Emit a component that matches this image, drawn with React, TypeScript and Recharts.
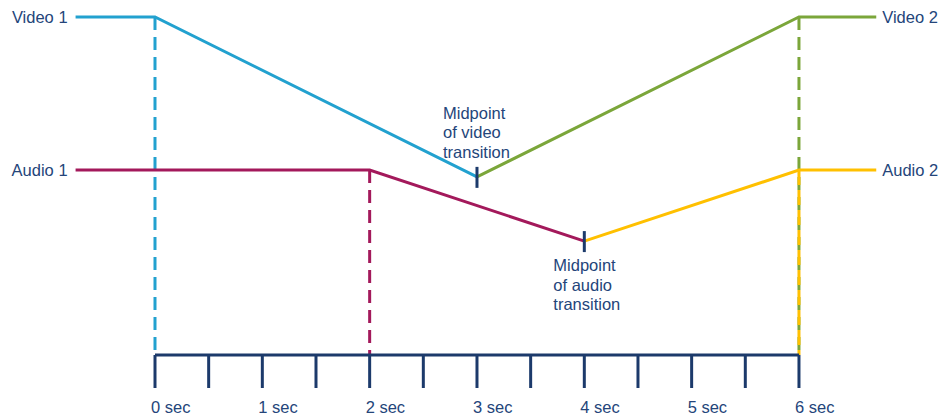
import React from 'react';
import { LineChart, Line, XAxis, YAxis, ReferenceLine, ReferenceDot } from 'recharts';

// time in seconds, level in arbitrary units (0..100)
const video1T = [-0.74, 0, 3];
const video1V = [100, 100, 52.7];
const video2T = [3, 6, 6.72];
const video2V = [52.7, 100, 100];
const audio1T = [-0.74, 2, 4];
const audio1V = [54.7, 54.7, 33.7];
const audio2T = [4, 6, 6.72];
const audio2V = [33.7, 54.7, 54.7];

const tickValues = [0, 0.5, 1, 1.5, 2, 2.5, 3, 3.5, 4, 4.5, 5, 5.5, 6];
const tickLabels = ['0 sec', '', '1 sec', '', '2 sec', '', '3 sec', '', '4 sec', '', '5 sec', '', '6 sec'];

const videoMidpointLabel = ['Midpoint', 'of video', 'transition'];
const audioMidpointLabel = ['Midpoint', 'of audio', 'transition'];

const toRows = (t: number[], v: number[]) => t.map((x, i) => ({ t: x, v: v[i] }));
const video1 = toRows(video1T, video1V);
const video2 = toRows(video2T, video2V);
const audio1 = toRows(audio1T, audio1V);
const audio2 = toRows(audio2T, audio2V);

const FONT = '"Liberation Sans", Arial, Helvetica, sans-serif';
const FS = 16.5;
const TEXT = '#24457a';
const NAVY = '#1c3a6b';
const BLUE = '#22a1cf';
const CRIMSON = '#a3195b';
const GREEN = '#7ba63a';
const YELLOW = '#ffc000';

const XTick = (props: any) => {
  const { x, y, payload } = props;
  const idx = tickValues.indexOf(payload.value);
  const label = idx >= 0 ? tickLabels[idx] : '';
  if (!label) return null;
  return (
    <text x={x - 4} y={y} dy={23} textAnchor="start" fontFamily={FONT} fontSize={FS} fill={TEXT}>
      {label}
    </text>
  );
};

const sideLabel = (text: string, side: 'left' | 'right') => (p: any) => (
  <text
    x={side === 'left' ? p.cx - 8 : p.cx + 6}
    y={p.cy}
    dy={5.5}
    textAnchor={side === 'left' ? 'end' : 'start'}
    fontFamily={FONT}
    fontSize={FS}
    fill={TEXT}
  >
    {text}
  </text>
);

const midpoint = (lines: string[], dx: number, dy: number) => (p: any) => (
  <g>
    <line x1={p.cx} x2={p.cx} y1={p.cy - 10} y2={p.cy + 11} stroke={NAVY} strokeWidth={3} />
    <text fontFamily={FONT} fontSize={FS} fill={TEXT}>
      {lines.map((l, i) => (
        <tspan key={i} x={p.cx + dx} y={p.cy + dy + i * 19.5}>
          {l}
        </tspan>
      ))}
    </text>
  </g>
);

export default function App() {
  return (
    <div style={{ position: 'absolute', left: 0, top: 0, width: 939, height: 417, background: '#fff' }}>
      <LineChart width={939} height={417} margin={{ top: 17, right: 32.7, bottom: 12, left: 47.67 }}>
        <XAxis
          type="number"
          dataKey="t"
          domain={[-1, 7]}
          ticks={tickValues}
          interval={0}
          axisLine={false}
          tickSize={33}
          tickLine={{ stroke: NAVY, strokeWidth: 3 }}
          tick={<XTick />}
          height={50}
        />
        <YAxis type="number" domain={[0, 100]} hide />

        <ReferenceLine segment={[{ x: 0, y: 100 }, { x: 0, y: 0 }]} stroke={BLUE} strokeWidth={3} strokeDasharray="13 7" ifOverflow="visible" />
        <ReferenceLine segment={[{ x: 2, y: 54.7 }, { x: 2, y: 0 }]} stroke={CRIMSON} strokeWidth={3} strokeDasharray="13 7" ifOverflow="visible" />
        <ReferenceLine segment={[{ x: 6, y: 100 }, { x: 6, y: 0 }]} stroke={GREEN} strokeWidth={3} strokeDasharray="13 7" ifOverflow="visible" />
        <ReferenceLine segment={[{ x: 6, y: 54.7 }, { x: 6, y: 0 }]} stroke={YELLOW} strokeWidth={3} strokeDasharray="15 5" ifOverflow="visible" />
        <ReferenceLine segment={[{ x: 0, y: 0 }, { x: 6, y: 0 }]} stroke={NAVY} strokeWidth={3} ifOverflow="visible" />

        <Line data={video1} dataKey="v" stroke={BLUE} strokeWidth={3} dot={false} activeDot={false} isAnimationActive={false} />
        <Line data={video2} dataKey="v" stroke={GREEN} strokeWidth={3} dot={false} activeDot={false} isAnimationActive={false} />
        <Line data={audio1} dataKey="v" stroke={CRIMSON} strokeWidth={3} dot={false} activeDot={false} isAnimationActive={false} />
        <Line data={audio2} dataKey="v" stroke={YELLOW} strokeWidth={3} dot={false} activeDot={false} isAnimationActive={false} />

        <ReferenceDot x={video1T[0]} y={video1V[0]} r={1} ifOverflow="visible" shape={sideLabel('Video 1', 'left')} />
        <ReferenceDot x={audio1T[0]} y={audio1V[0]} r={1} ifOverflow="visible" shape={sideLabel('Audio 1', 'left')} />
        <ReferenceDot x={video2T[2]} y={video2V[2]} r={1} ifOverflow="visible" shape={sideLabel('Video 2', 'right')} />
        <ReferenceDot x={audio2T[2]} y={audio2V[2]} r={1} ifOverflow="visible" shape={sideLabel('Audio 2', 'right')} />

        <ReferenceDot x={video1T[2]} y={video1V[2]} r={1} ifOverflow="visible" shape={midpoint(videoMidpointLabel, -34, -58)} />
        <ReferenceDot x={audio1T[2]} y={audio1V[2]} r={1} ifOverflow="visible" shape={midpoint(audioMidpointLabel, -31, 30)} />
      </LineChart>
    </div>
  );
}
